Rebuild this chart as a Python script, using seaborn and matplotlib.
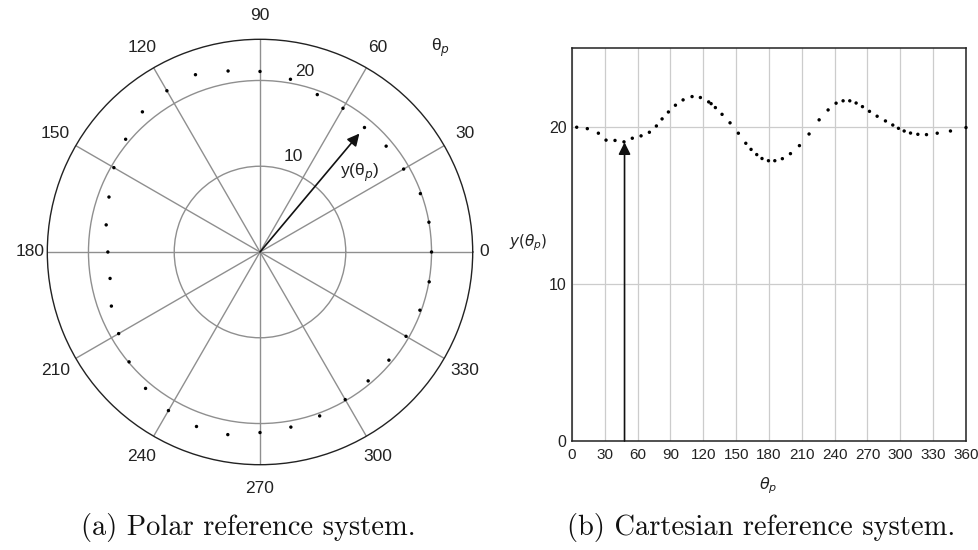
import numpy as np
import pandas as pd
import matplotlib
matplotlib.use("Agg")
import matplotlib.pyplot as plt
import seaborn as sns

sns.set_theme(style="white")
plt.rcParams["font.family"] = ["Liberation Sans", "DejaVu Sans"]
plt.rcParams["mathtext.fontset"] = "dejavusans"

# Polar samples: y(theta_p) every 10 degrees
polar_theta_deg = [0, 10, 20, 30, 40, 50, 60, 70, 80, 90, 100, 110,
                   120, 130, 140, 150, 160, 170, 180, 190, 200, 210, 220, 230,
                   240, 250, 260, 270, 280, 290, 300, 310, 320, 330, 340, 350]
polar_y = [20.0, 20.0, 19.9, 19.34, 19.2, 18.95, 19.35, 19.53, 20.45, 21.05, 21.43, 22.0,
           21.71, 21.33, 20.45, 19.67, 18.74, 18.21, 17.74, 17.75, 18.44, 19.03, 19.93, 20.76,
           21.35, 21.65, 21.62, 21.05, 20.73, 20.34, 19.87, 19.62, 19.62, 19.66, 19.84, 20.03]

# Cartesian samples: y(theta_p) against theta_p
cart_theta_deg = [4.3, 14.0, 24.1, 31.1, 39.3, 47.5, 55.1, 63.1, 70.7, 77.1, 82.3, 88.1,
                  94.5, 101.5, 109.7, 117.3, 124.9, 127.1, 131.0, 137.1, 144.4, 152.0,
                  158.8, 163.6, 168.8, 173.6, 179.5, 185.3, 192.2, 199.6, 207.8, 216.6,
                  225.8, 234.0, 241.3, 247.7, 253.8, 259.6, 265.4, 271.8, 278.8, 286.4,
                  293.1, 298.3, 303.5, 309.3, 316.0, 323.9, 333.7, 345.8, 360.0]
cart_y = [19.96, 19.87, 19.58, 19.14, 19.12, 19.03, 19.26, 19.41, 19.64, 20.04, 20.49, 20.93,
          21.36, 21.70, 21.91, 21.85, 21.57, 21.46, 21.21, 20.78, 20.24, 19.58,
          18.94, 18.55, 18.22, 17.97, 17.83, 17.83, 17.96, 18.28, 18.79, 19.53,
          20.43, 21.06, 21.49, 21.64, 21.64, 21.50, 21.27, 20.97, 20.66, 20.36,
          20.10, 19.89, 19.72, 19.59, 19.51, 19.49, 19.58, 19.72, 19.94]

angle_ticks = list(range(0, 360, 30))
x_ticks = list(range(0, 361, 30))
radial_rings = [10, 20]

# Highlighted sample y(theta_p)
arrow_theta_deg = 50
arrow_value = 19.0
cart_arrow_theta = 48
cart_arrow_value = 19.0

polar_df = pd.DataFrame({"theta": np.deg2rad(polar_theta_deg), "y": polar_y})
cart_df = pd.DataFrame({"theta": cart_theta_deg, "y": cart_y})

W, H = 979, 550
fig = plt.figure(figsize=(W / 100, H / 100), dpi=100)
fig.patch.set_facecolor("white")

grid_grey = "#8f8f8f"
ink = "#222222"

# ---------- (a) polar ----------
axp = fig.add_axes([47.3 / W, 1 - 464.7 / H, 425.4 / W, 425.4 / H], projection="polar")
axp.set_facecolor("white")
sns.scatterplot(data=polar_df, x="theta", y="y", ax=axp, color="black", s=6,
                edgecolor="none", legend=False)
axp.set_xlabel("")
axp.set_ylabel("")
axp.set_ylim(0, 24.8)
axp.set_xticks(np.deg2rad(angle_ticks))
# the horizontal labels (0 and 180) sit a little closer to the rim
axp.set_xticklabels(["" if a in (0, 180) else str(a) for a in angle_ticks],
                    fontsize=12.5, color=ink)
axp.tick_params(axis="x", pad=4)
axp.text(0, 26.1, "0", fontsize=12.5, ha="center", va="center", color=ink, clip_on=False)
axp.text(np.pi, 26.8, "180", fontsize=12.5, ha="center", va="center", color=ink,
         clip_on=False)
axp.set_yticks(radial_rings)
axp.set_yticklabels([])
axp.grid(True, color=grid_grey, linewidth=1.0)
axp.spines["polar"].set_color(ink)
axp.spines["polar"].set_linewidth(1.0)

axp.text(np.deg2rad(71), 11.8, "10", fontsize=12.5, ha="center", va="center", color=ink)
axp.text(np.deg2rad(76), 21.7, "20", fontsize=12.5, ha="center", va="center", color=ink)

axp.annotate("", xy=(np.deg2rad(arrow_theta_deg), arrow_value), xytext=(0, 0),
             arrowprops=dict(arrowstyle="-|>", color="#111111", lw=1.2,
                             mutation_scale=18, shrinkA=0, shrinkB=6))
axp.text(np.deg2rad(38.3), 14.85, r"y(θ$_p$)", fontsize=12.5, ha="center", va="center",
         color=ink)
fig.text(440 / W, 1 - 48 / H, r"θ$_p$", fontsize=12.5, ha="center", va="center",
         color=ink)

# ---------- (b) cartesian ----------
axc = fig.add_axes([572 / W, 1 - 441 / H, 394 / W, 393 / H])
axc.set_facecolor("white")
sns.scatterplot(data=cart_df, x="theta", y="y", ax=axc, color="black", s=6,
                edgecolor="none", legend=False, clip_on=False, zorder=5)
axc.set_xlim(0, 360)
axc.set_ylim(0, 25)
axc.set_xticks(x_ticks)
axc.set_xticklabels([str(t) for t in x_ticks], fontsize=11)
axc.set_yticks([0, 10, 20])
axc.set_yticklabels(["0", "10", "20"], fontsize=11.5)
axc.set_yticks([5, 15], minor=True)
axc.tick_params(axis="both", which="both", direction="in", length=5, width=1,
                color=ink, labelcolor=ink)
axc.tick_params(axis="x", pad=5)
axc.tick_params(axis="y", pad=4)
axc.grid(True, which="major", color="#cccccc", linewidth=0.9)
axc.grid(False, which="minor")
for sp in axc.spines.values():
    sp.set_color(ink)
    sp.set_linewidth(1.1)
axc.set_xlabel("")
axc.set_ylabel("")
axc.annotate("", xy=(cart_arrow_theta, cart_arrow_value), xytext=(cart_arrow_theta, 0),
             arrowprops=dict(arrowstyle="-|>", color="#111111", lw=1.2,
                             mutation_scale=18, shrinkA=0, shrinkB=0))
fig.text(528 / W, 1 - 243 / H, r"$y(\theta_p)$", fontsize=11, ha="center", va="center",
         color=ink)
fig.text(768 / W, 1 - 486 / H, r"$\theta_p$", fontsize=11.5, ha="center", va="center",
         color=ink)

# ---------- captions ----------
fig.text(248 / W, 1 - 527 / H, "(a) Polar reference system.", fontsize=20.5,
         family="cmr10", ha="center", va="center", color="#111111")
fig.text(761 / W, 1 - 527 / H, "(b) Cartesian reference system.", fontsize=20.5,
         family="cmr10", ha="center", va="center", color="#111111")

fig.savefig("out.png", dpi=100, facecolor="white")
